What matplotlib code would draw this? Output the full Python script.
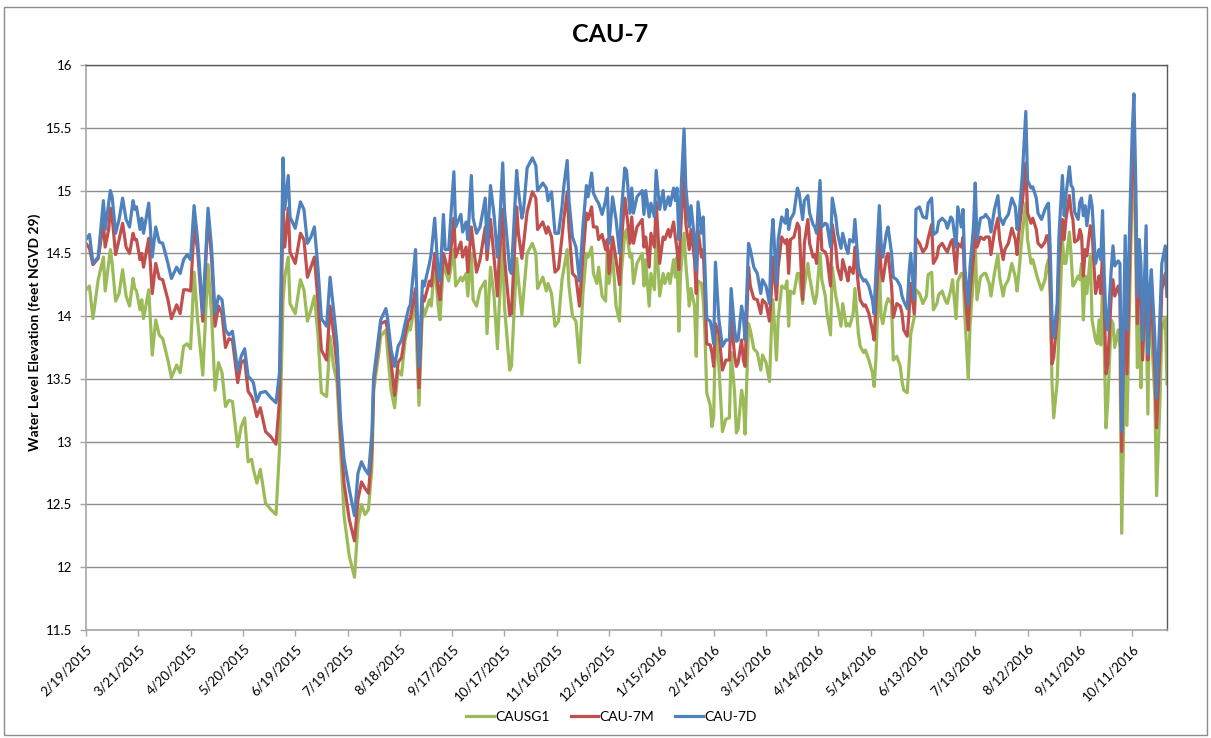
import numpy as np
import pandas as pd
import matplotlib
matplotlib.use("Agg")
import matplotlib.pyplot as plt
from matplotlib.patches import Rectangle

plt.rcParams['font.family'] = ['Lato', 'DejaVu Sans']

start_date = '2015-02-19'

# day offsets from start_date
days = [0, 2, 4, 7, 10, 11, 13, 14, 15, 17, 19, 21, 23, 25, 27, 28, 29, 31, 32, 33,
        36, 38, 40, 42, 44, 47, 49, 52, 54, 56, 58, 60, 62, 64, 67, 70, 72, 74, 76, 78,
        80, 82, 84, 87, 89, 91, 93, 95, 96, 98, 100, 103, 106, 109, 111, 113, 114, 116, 117, 120,
        123, 125, 127, 129, 131, 133, 135, 138, 140, 142, 144, 146, 148, 151, 154, 156,
        158, 160, 162, 164, 165, 168, 169, 172, 173, 175, 177, 179, 181, 183, 185, 186, 189, 190, 191, 193,
        194, 197, 198, 200, 202, 203, 205, 206, 208, 211, 212, 215, 216, 218, 219, 221, 222, 224, 226, 229,
        230, 232, 234,
        236, 237, 239, 240, 243, 244, 247, 248, 250, 251, 253, 256, 258, 259, 262, 264, 265, 267, 269, 271,
        273, 274, 276, 277, 279, 281, 283, 285, 287, 288, 290, 291, 293, 294, 296, 298, 299, 300, 302, 304,
        306, 307, 309, 310, 312,
        313, 314, 316, 319, 320, 321, 323, 324, 326, 327, 329, 331, 332, 334, 335, 337, 338, 339, 340, 341,
        343, 344, 346, 347, 349, 350, 351, 353, 354, 355, 356, 358, 359, 360, 361, 363, 365, 367, 369, 370,
        372, 373, 374, 376, 377, 378, 380, 381, 383, 385, 387, 388, 390,
        392, 393, 394, 396, 397, 399, 401, 402, 403, 404, 406, 408, 409, 411, 412, 414, 415, 417, 418, 419,
        421, 422, 424, 425, 427, 428, 430, 431, 433, 434, 436, 437, 438, 440, 441, 443, 444, 446, 447, 449,
        451, 452, 453, 455, 456, 457, 459, 460, 462, 463, 465, 467, 468,
        469, 471, 472, 473, 475, 476, 478, 480, 482, 483, 485, 486, 488, 489, 491, 493, 494, 496, 497, 499,
        500, 502, 503, 504, 506, 507, 509, 510, 511, 513, 515, 516, 518, 519, 521, 523, 524, 526, 527, 529,
        531, 533, 534, 535, 537, 539, 540, 542, 543, 545, 546,
        548, 550, 551, 552, 553, 554, 555, 557, 558, 560, 561, 562, 564, 565, 566, 567, 569, 570, 571, 572,
        573, 574, 576, 577, 579, 580, 581, 582, 583, 584, 585, 586, 588, 589, 590, 592, 593, 594, 596, 597,
        599, 600, 601, 602, 603, 604, 605, 606, 608, 609, 610, 611, 613, 614, 616, 617, 619, 620]

cau7d = [14.61, 14.65, 14.42, 14.47, 14.92, 14.69, 14.90, 15.00, 14.95, 14.66, 14.77, 14.94, 14.77, 14.71, 14.92, 14.85, 14.87, 14.69, 14.78, 14.66,
         14.90, 14.47, 14.71, 14.59, 14.58, 14.42, 14.30, 14.39, 14.34, 14.45, 14.49, 14.45, 14.88, 14.61, 14.02, 14.86, 14.55, 14.02, 14.16, 14.13,
         13.89, 13.85, 13.88, 13.57, 13.68, 13.74, 13.52, 13.49, 13.47, 13.32, 13.39, 13.40, 13.35, 13.31, 13.55, 15.26, 14.85, 15.12, 14.79, 14.70,
         14.91, 14.85, 14.58, 14.63, 14.71, 14.39, 13.98, 13.92, 14.31, 14.05, 13.78, 13.18, 12.86, 12.62, 12.41, 12.75,
         12.84, 12.78, 12.74, 13.07, 13.52, 13.86, 13.97, 14.06, 13.98, 13.73, 13.60, 13.76, 13.81, 13.94, 14.06, 14.09, 14.53, 14.02, 13.60, 14.28,
         14.24, 14.42, 14.50, 14.78, 14.34, 14.28, 14.81, 14.53, 14.53, 15.15, 14.71, 14.81, 14.67, 14.75, 14.61, 15.12, 14.78, 14.66, 14.71, 14.94,
         14.53, 15.04, 14.81,
         14.47, 14.66, 15.22, 14.85, 14.37, 14.34, 15.16, 15.00, 14.78, 14.85, 15.18, 15.26, 15.20, 15.00, 15.06, 15.02, 14.92, 14.99, 14.66, 14.66,
         14.87, 15.03, 15.24, 14.92, 14.63, 14.55, 14.28, 14.71, 15.04, 14.95, 15.14, 14.98, 14.92, 14.90, 14.81, 14.92, 15.02, 14.58, 14.95, 14.77,
         14.50, 14.82, 15.18, 15.16, 14.82,
         15.02, 14.82, 14.95, 15.00, 14.81, 15.00, 14.79, 14.90, 14.79, 15.16, 14.85, 15.00, 14.85, 14.95, 14.88, 15.02, 14.92, 15.02, 14.61, 14.92,
         15.49, 15.03, 14.71, 14.88, 14.61, 14.37, 14.91, 14.66, 14.79, 14.39, 13.98, 13.96, 13.89, 13.78, 14.43, 13.97, 13.76, 13.81, 13.81, 14.22,
         13.89, 13.80, 13.81, 14.08, 14.00, 13.81, 14.58, 14.53, 14.39, 14.34, 14.18, 14.29, 14.24,
         14.10, 14.58, 14.77, 14.26, 14.61, 14.79, 14.74, 14.85, 14.69, 14.77, 14.82, 15.02, 14.98, 14.77, 14.92, 14.96, 14.82, 14.73, 14.71, 14.66,
         15.08, 14.71, 14.74, 14.73, 14.55, 14.94, 14.79, 14.66, 14.54, 14.66, 14.54, 14.50, 14.61, 14.59, 14.77, 14.39, 14.33, 14.28, 14.29, 14.24,
         14.13, 14.02, 14.34, 14.88, 14.58, 14.47, 14.66, 14.71, 14.50, 14.31, 14.29, 14.24, 14.16,
         14.12, 14.06, 14.34, 14.50, 14.13, 14.85, 14.87, 14.79, 14.78, 14.90, 14.94, 14.65, 14.67, 14.75, 14.78, 14.75, 14.70, 14.79, 14.77, 14.55,
         14.87, 14.71, 14.85, 14.39, 14.09, 14.39, 14.71, 15.06, 14.61, 14.78, 14.79, 14.81, 14.77, 14.67, 14.85, 14.96, 14.79, 14.73, 14.77, 14.81,
         14.94, 14.87, 14.69, 14.77, 15.12, 15.63, 15.08, 15.02, 15.03, 14.94, 14.82,
         14.77, 14.85, 14.88, 14.90, 14.53, 14.00, 13.83, 14.10, 14.64, 15.12, 14.80, 14.96, 15.19, 15.04, 15.02, 14.83, 14.77, 14.91, 14.94, 14.80,
         14.88, 14.72, 14.96, 14.88, 14.42, 14.48, 14.53, 14.45, 14.84, 14.32, 13.97, 13.89, 14.37, 14.56, 14.40, 14.44, 14.42, 13.08, 14.64, 13.89,
         14.96, 15.45, 15.77, 15.10, 14.16, 14.61, 14.42, 13.81, 14.72, 13.70, 14.21, 14.37, 13.83, 13.35, 14.02, 14.42, 14.56, 14.16]

cau7m = [14.58, 14.54, 14.41, 14.46, 14.74, 14.55, 14.69, 14.86, 14.79, 14.49, 14.61, 14.74, 14.55, 14.50, 14.66, 14.61, 14.61, 14.45, 14.50, 14.39,
         14.62, 14.18, 14.42, 14.30, 14.29, 14.13, 13.98, 14.09, 14.02, 14.21, 14.21, 14.20, 14.71, 14.53, 13.96, 14.79, 14.47, 13.92, 14.08, 14.02,
         13.75, 13.82, 13.81, 13.47, 13.63, 13.65, 13.40, 13.36, 13.32, 13.20, 13.27, 13.08, 13.04, 12.98, 13.33, 14.85, 14.55, 14.86, 14.51, 14.42,
         14.66, 14.61, 14.31, 14.39, 14.47, 14.13, 13.73, 13.65, 14.08, 13.86, 13.60, 13.07, 12.67, 12.38, 12.21, 12.54,
         12.68, 12.63, 12.59, 12.94, 13.47, 13.81, 13.94, 13.96, 13.89, 13.63, 13.37, 13.63, 13.67, 13.86, 13.97, 13.98, 14.22, 13.86, 13.43, 14.16,
         14.12, 14.28, 14.24, 14.50, 14.21, 14.13, 14.50, 14.45, 14.34, 14.78, 14.47, 14.59, 14.47, 14.55, 14.35, 14.71, 14.58, 14.35, 14.45, 14.71,
         14.45, 14.77, 14.47,
         14.16, 14.47, 14.85, 14.47, 14.01, 14.02, 14.87, 14.66, 14.46, 14.58, 14.83, 14.99, 14.94, 14.69, 14.75, 14.66, 14.71, 14.63, 14.35, 14.38,
         14.63, 14.77, 14.99, 14.70, 14.34, 14.31, 14.08, 14.47, 14.82, 14.77, 14.87, 14.71, 14.71, 14.61, 14.65, 14.53, 14.61, 14.34, 14.63, 14.45,
         14.25, 14.58, 14.94, 14.83, 14.58,
         14.79, 14.58, 14.71, 14.77, 14.55, 14.63, 14.39, 14.66, 14.55, 14.91, 14.42, 14.63, 14.61, 14.69, 14.63, 14.75, 14.63, 14.53, 14.37, 14.66,
         15.16, 14.74, 14.53, 14.69, 14.45, 14.18, 14.69, 14.47, 14.53, 14.18, 13.78, 13.77, 13.71, 13.60, 13.94, 13.86, 13.57, 13.65, 13.65, 14.00,
         13.68, 13.60, 13.63, 13.81, 13.65, 13.60, 14.39, 14.24, 14.14, 14.13, 14.02, 14.13, 14.10,
         13.96, 14.18, 14.47, 14.13, 14.39, 14.63, 14.58, 14.61, 14.34, 14.61, 14.63, 14.74, 14.71, 14.13, 14.58, 14.77, 14.58, 14.47, 14.49, 14.42,
         14.85, 14.53, 14.51, 14.47, 14.24, 14.73, 14.55, 14.39, 14.29, 14.45, 14.34, 14.28, 14.39, 14.34, 14.55, 14.24, 14.13, 14.08, 14.09, 14.02,
         13.89, 13.81, 14.08, 14.61, 14.37, 14.28, 14.47, 14.50, 14.24, 13.99, 14.10, 14.08, 14.02,
         13.89, 13.84, 14.02, 14.26, 14.02, 14.62, 14.58, 14.51, 14.55, 14.62, 14.73, 14.42, 14.47, 14.55, 14.58, 14.53, 14.51, 14.59, 14.61, 14.34,
         14.58, 14.55, 14.63, 14.21, 13.89, 14.18, 14.47, 14.74, 14.55, 14.63, 14.61, 14.63, 14.63, 14.49, 14.67, 14.78, 14.61, 14.45, 14.53, 14.58,
         14.70, 14.61, 14.49, 14.66, 14.90, 15.22, 14.82, 14.74, 14.78, 14.69, 14.58,
         14.55, 14.59, 14.64, 14.64, 14.29, 13.62, 13.67, 13.99, 14.42, 14.77, 14.61, 14.77, 14.96, 14.83, 14.77, 14.59, 14.61, 14.69, 14.64, 14.32,
         14.53, 14.48, 14.72, 14.67, 14.18, 14.24, 14.32, 14.18, 14.53, 14.10, 13.54, 13.62, 14.16, 14.29, 14.16, 14.24, 14.16, 12.92, 14.37, 13.54,
         14.69, 15.23, 15.45, 14.83, 13.94, 14.37, 14.24, 13.65, 14.37, 13.65, 13.94, 14.18, 13.56, 13.11, 13.75, 14.21, 14.34, 14.16]

causg1 = [14.21, 14.24, 13.98, 14.29, 14.47, 14.20, 14.42, 14.53, 14.42, 14.12, 14.18, 14.37, 14.16, 14.08, 14.30, 14.22, 14.20, 14.05, 14.13, 13.98,
          14.21, 13.69, 13.97, 13.85, 13.82, 13.65, 13.51, 13.61, 13.55, 13.76, 13.78, 13.74, 14.35, 13.97, 13.53, 14.41, 14.02, 13.41, 13.63, 13.55,
          13.28, 13.33, 13.32, 12.96, 13.12, 13.19, 12.84, 12.86, 12.78, 12.67, 12.78, 12.51, 12.46, 12.42, 12.94, 14.13, 14.31, 14.47, 14.10, 14.02,
          14.29, 14.21, 13.96, 14.05, 14.16, 13.86, 13.39, 13.36, 13.84, 13.60, 13.47, 12.94, 12.41, 12.09, 11.92, 12.35,
          12.50, 12.42, 12.46, 12.80, 13.41, 13.71, 13.84, 13.89, 13.71, 13.41, 13.27, 13.57, 13.53, 13.81, 13.92, 13.89, 14.13, 13.65, 13.29, 14.08,
          14.00, 14.13, 14.08, 14.42, 14.08, 13.97, 14.42, 14.37, 14.28, 14.53, 14.24, 14.31, 14.28, 14.34, 14.16, 14.50, 14.13, 14.08, 14.21, 14.28,
          13.86, 14.39, 14.16,
          13.74, 14.08, 14.58, 14.08, 13.57, 13.60, 14.46, 14.29, 14.01, 14.18, 14.50, 14.58, 14.50, 14.22, 14.31, 14.20, 14.26, 14.18, 13.92, 13.96,
          14.29, 14.37, 14.53, 14.24, 14.00, 13.96, 13.63, 14.18, 14.50, 14.47, 14.55, 14.34, 14.26, 14.39, 14.16, 14.12, 14.55, 14.26, 14.50, 14.08,
          13.96, 14.34, 14.66, 14.69, 14.47,
          14.50, 14.26, 14.42, 14.50, 14.24, 14.45, 14.08, 14.34, 14.21, 14.67, 14.16, 14.34, 14.26, 14.34, 14.26, 14.45, 14.31, 14.47, 13.88, 14.34,
          14.66, 14.42, 14.08, 14.22, 14.08, 13.68, 14.28, 14.26, 14.13, 13.86, 13.39, 13.29, 13.12, 13.20, 13.90, 13.60, 13.08, 13.18, 13.19, 13.71,
          13.39, 13.07, 13.10, 13.41, 13.33, 13.06, 13.94, 13.89, 13.74, 13.71, 13.57, 13.69, 13.63,
          13.48, 13.86, 14.13, 13.65, 13.98, 14.24, 14.22, 14.28, 13.92, 14.20, 14.18, 14.34, 14.34, 14.10, 14.24, 14.42, 14.31, 14.16, 14.10, 14.16,
          14.50, 14.29, 14.16, 14.02, 13.85, 14.39, 14.16, 14.09, 13.92, 14.10, 13.92, 13.94, 13.92, 14.02, 14.22, 13.86, 13.76, 13.71, 13.73, 13.65,
          13.55, 13.44, 13.65, 14.39, 14.00, 13.94, 14.10, 14.14, 14.10, 13.65, 13.68, 13.60, 13.48,
          13.41, 13.39, 13.60, 13.86, 13.99, 14.21, 14.18, 14.10, 14.16, 14.33, 14.35, 14.05, 14.10, 14.17, 14.20, 14.12, 14.10, 14.21, 14.29, 13.98,
          14.28, 14.34, 14.34, 14.02, 13.50, 13.92, 14.31, 14.58, 14.13, 14.31, 14.34, 14.34, 14.26, 14.16, 14.34, 14.49, 14.31, 14.16, 14.24, 14.29,
          14.42, 14.31, 14.20, 14.34, 14.66, 14.90, 14.61, 14.42, 14.45, 14.34, 14.29,
          14.21, 14.29, 14.40, 14.45, 14.16, 13.48, 13.19, 13.48, 13.89, 14.61, 14.42, 14.42, 14.67, 14.48, 14.24, 14.26, 14.32, 14.29, 14.42, 13.97,
          14.32, 14.18, 14.48, 13.97, 13.81, 13.78, 13.97, 13.77, 14.26, 13.75, 13.11, 13.32, 13.97, 13.94, 13.75, 13.89, 13.75, 12.27, 13.75, 13.13,
          14.42, 15.02, 15.23, 14.53, 13.59, 14.16, 13.43, 14.02, 14.05, 13.22, 14.16, 13.89, 13.35, 12.57, 13.35, 13.89, 13.99, 13.46]

tick_labels = ['2/19/2015', '3/21/2015', '4/20/2015', '5/20/2015', '6/19/2015', '7/19/2015',
               '8/18/2015', '9/17/2015', '10/17/2015', '11/16/2015', '12/16/2015', '1/15/2016',
               '2/14/2016', '3/15/2016', '4/14/2016', '5/14/2016', '6/13/2016', '7/13/2016',
               '8/12/2016', '9/11/2016', '10/11/2016']

assert len(days) == len(cau7d) == len(cau7m) == len(causg1)

dates = pd.Timestamp(start_date) + pd.to_timedelta(days, unit='D')
tick_dates = pd.to_datetime(tick_labels, format='%m/%d/%Y')

fig = plt.figure(figsize=(12.11, 7.38), dpi=100)
ax = fig.add_axes([0.0710, 0.1463, 0.8927, 0.7656])

ax.plot(dates, causg1, color='#9BBB59', lw=2.3, label='CAUSG1')
ax.plot(dates, cau7m, color='#C0504D', lw=2.3, label='CAU-7M')
ax.plot(dates, cau7d, color='#4F81BD', lw=2.3, label='CAU-7D')

ax.set_xlim(dates[0], dates[-1])
ax.set_ylim(11.5, 16)
ax.set_yticks(np.arange(11.5, 16.01, 0.5))
ax.set_yticklabels(['%g' % v for v in np.arange(11.5, 16.01, 0.5)])
ax.set_xticks(tick_dates)
ax.set_xticklabels(tick_labels, rotation=45, ha='right', va='top', rotation_mode='anchor')
ax.tick_params(axis='both', labelsize=9.5, colors='#404040', length=4, width=1)
ax.tick_params(axis='x', colors='#a6a6a6', labelcolor='#000000', pad=5)
ax.tick_params(axis='y', colors='#a6a6a6', labelcolor='#000000', pad=6)

ax.grid(axis='y', color='#8c8c8c', lw=1)
ax.set_axisbelow(True)
for s in ['left', 'bottom']:
    ax.spines[s].set_color('#a6a6a6')
    ax.spines[s].set_linewidth(1.2)
for s in ['top', 'right']:
    ax.spines[s].set_color('#595959')
    ax.spines[s].set_linewidth(1)

fig.text(0.504, 0.953, 'CAU-7', ha='center', va='center', fontsize=18, fontweight='bold')
fig.text(0.029, 0.55, 'Water Level Elevation (feet NGVD 29)', rotation=90,
         ha='center', va='center', fontsize=10, fontweight='bold')

fig.legend(loc='center', bbox_to_anchor=(0.505, 0.028), ncol=3, frameon=False,
           fontsize=10, handlelength=2.0, handletextpad=0.1, columnspacing=1.5)

fig.patches.append(Rectangle((0.0035, 0.004), 0.993, 0.987, transform=fig.transFigure,
                             fill=False, edgecolor='#8c8c8c', lw=1))

plt.savefig('out.png', dpi=100)
